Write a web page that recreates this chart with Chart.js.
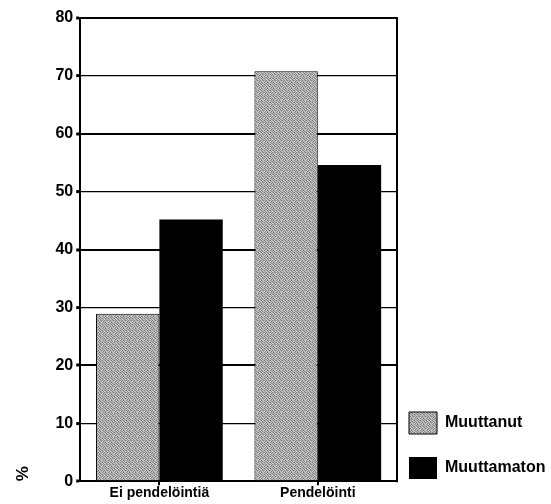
<!DOCTYPE html>
<html>
<head>
<meta charset="utf-8">
<script src="https://cdn.jsdelivr.net/npm/chart.js@4"></script>
<style>
html,body{margin:0;padding:0;background:#fff;}
#wrap{width:551px;height:504px;}
</style>
</head>
<body>
<div id="wrap"><canvas id="c" width="551" height="504"></canvas></div>
<script>
const categories = ["Ei pendelöintiä", "Pendelöinti"];
const seriesNames = ["Muuttanut", "Muuttamaton"];
const muuttanut = [28.9, 70.8];
const muuttamaton = [45.2, 54.6];
const yTicks = [0, 10, 20, 30, 40, 50, 60, 70, 80];

function makePattern() {
  const p = document.createElement('canvas');
  p.width = 6; p.height = 6;
  const g = p.getContext('2d');
  const shades = [
    ['#6a6a6a','#cfcfcf','#a8a8a8','#7a7a7a','#d2d2d2','#9c9c9c'],
    ['#c4c4c4','#8c8c8c','#d6d6d6','#b8b8b8','#747474','#c8c8c8'],
    ['#9e9e9e','#c0c0c0','#707070','#cccccc','#a4a4a4','#808080'],
    ['#d4d4d4','#7c7c7c','#bcbcbc','#969696','#c6c6c6','#b0b0b0'],
    ['#848484','#b4b4b4','#cacaca','#6e6e6e','#aaaaaa','#d0d0d0'],
    ['#c2c2c2','#a0a0a0','#888888','#cecece','#868686','#bababa']
  ];
  for (let y = 0; y < 6; y++) for (let x = 0; x < 6; x++) {
    g.fillStyle = shades[y][x]; g.fillRect(x, y, 1, 1);
  }
  return document.getElementById('c').getContext('2d').createPattern(p, 'repeat');
}
const grayPattern = makePattern();

const font = "'Liberation Sans', Arial, sans-serif";

const layoutTweaks = {
  id: 'layoutTweaks',
  afterLayout(chart) {
    if (chart.legend) { chart.legend.left -= 11; chart.legend.width += 11; }
  },
  afterDatasetsDraw(chart) {
    const { ctx, chartArea } = chart;
    ctx.save();
    ctx.strokeStyle = '#000';
    ctx.lineWidth = 2;
    ctx.beginPath();
    ctx.moveTo(chartArea.right, chartArea.top - 1);
    ctx.lineTo(chartArea.right, chartArea.bottom + 1);
    ctx.stroke();
    ctx.restore();
  }
};

new Chart(document.getElementById('c'), {
  type: 'bar',
  data: {
    labels: categories,
    datasets: [
      { label: seriesNames[0], data: muuttanut, backgroundColor: grayPattern, borderColor: '#000', borderWidth: 1 },
      { label: seriesNames[1], data: muuttamaton, backgroundColor: '#000', borderColor: '#000', borderWidth: 0 }
    ]
  },
  plugins: [layoutTweaks],
  options: {
    responsive: false,
    animation: false,
    devicePixelRatio: 1,
    layout: { padding: { top: 18, right: 0, bottom: 2, left: 4 } },
    datasets: { bar: { categoryPercentage: 0.8, barPercentage: 1.0 } },
    plugins: {
      tooltip: { enabled: false },
      legend: {
        position: 'right',
        align: 'end',
        maxWidth: 154,
        labels: {
          boxWidth: 28, boxHeight: 22, padding: 23,
          color: '#000',
          font: { family: font, size: 16, weight: 'bold' }
        }
      }
    },
    scales: {
      x: {
        grid: { display: true, drawOnChartArea: false, offset: false, color: '#000', lineWidth: 2, tickLength: 4 },
        border: { display: true, color: '#000', width: 2 },
        ticks: { color: '#000', font: { family: font, size: 14, weight: 'bold' }, padding: 0 }
      },
      y: {
        min: 0, max: 80,
        afterBuildTicks: (axis) => { axis.ticks = yTicks.map(v => ({ value: v })); },
        grid: {
          color: '#000',
          lineWidth: (ctx) => (ctx.tick && ctx.tick.value % 20 === 0) ? 2 : 1.2,
          tickLength: 4, tickWidth: 3, tickColor: '#000'
        },
        border: { display: true, color: '#000', width: 2 },
        ticks: { color: '#000', font: { family: font, size: 16, weight: 'bold' }, padding: 3 },
        title: { display: true, text: '%', align: 'start', color: '#000', font: { family: font, size: 17, weight: 'bold' }, padding: { top: 9, bottom: 19 } }
      }
    }
  }
});
</script>
</body>
</html>
